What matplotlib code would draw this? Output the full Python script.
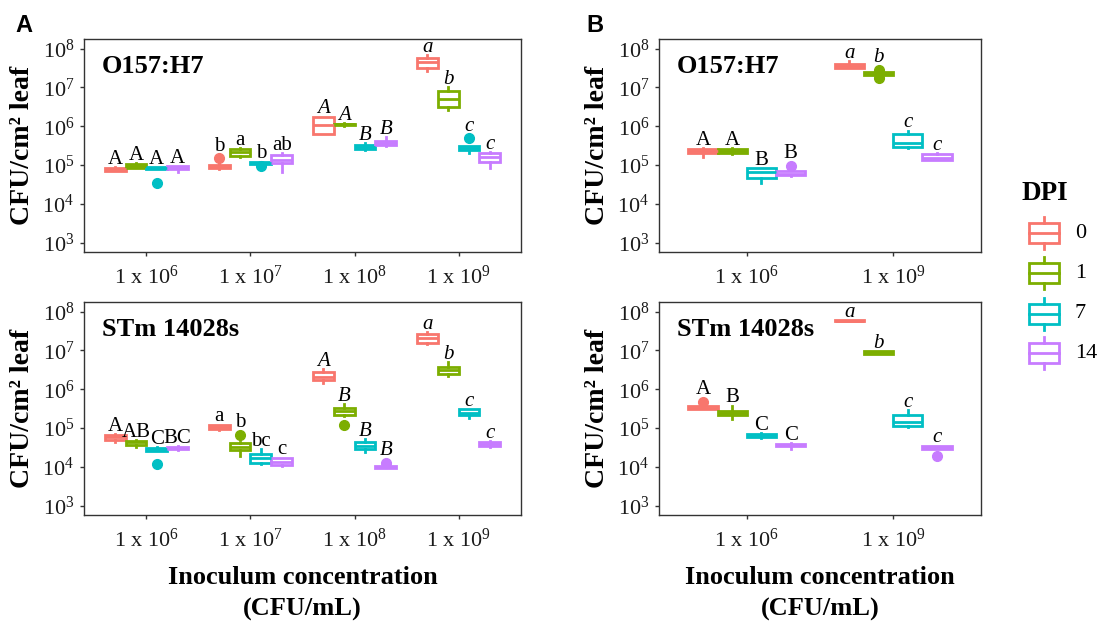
import numpy as np
import matplotlib
matplotlib.use('Agg')
import matplotlib.pyplot as plt
from matplotlib.ticker import FixedLocator, LogFormatterMathtext, NullLocator
from matplotlib.patches import Rectangle

plt.rcParams['font.family'] = 'Liberation Serif'
plt.rcParams['mathtext.fontset'] = 'custom'
plt.rcParams['mathtext.rm'] = 'Liberation Serif'
plt.rcParams['mathtext.it'] = 'Liberation Serif:italic'
plt.rcParams['mathtext.bf'] = 'Liberation Serif:bold'

# DPI groups and ggplot default colours
dpi_levels = ['0', '1', '7', '14']
dpi_colors = ['#F8766D', '#7CAE00', '#00BFC4', '#C77CFF']

# all values are log10 CFU/cm2 leaf, rows = inoculum, columns = DPI 0,1,7,14
# Panel A, O157:H7
a1_conc = [6, 7, 8, 9]
a1_q1 = [[4.86, 4.93, 4.91, 4.89], [4.92, 5.24, 5.04, 5.05], [5.80, 6.03, 5.42, 5.53], [7.50, 6.50, 5.38, 5.09]]
a1_med = [[4.89, 4.98, 4.93, 4.93], [4.96, 5.35, 5.06, 5.13], [6.03, 6.05, 5.47, 5.58], [7.65, 6.70, 5.43, 5.21]]
a1_q3 = [[4.93, 5.04, 4.95, 4.97], [5.00, 5.42, 5.08, 5.25], [6.25, 6.07, 5.51, 5.62], [7.75, 6.92, 5.48, 5.30]]
a1_lo = [[4.84, 4.92, 4.90, 4.81], [4.91, 5.22, 5.03, 4.82], [5.80, 6.02, 5.38, 5.50], [7.42, 6.41, 5.31, 4.92]]
a1_hi = [[4.95, 5.06, 4.96, 4.98], [5.02, 5.44, 5.09, 5.30], [6.25, 6.09, 5.56, 5.72], [7.83, 7.00, 5.50, 5.33]]
a1_out = [[[], [], [4.54], []], [[5.17], [], [4.97], []], [[], [], [], []], [[], [], [5.69], []]]
a1_letters = [['A', 'A', 'A', 'A'], ['b', 'a', 'b', 'ab'], ['A', 'A', 'B', 'B'], ['a', 'b', 'c', 'c']]
a1_italic = [False, False, True, True]

# Panel A, STm 14028s
a2_conc = [6, 7, 8, 9]
a2_q1 = [[4.70, 4.56, 4.42, 4.45], [4.97, 4.44, 4.09, 4.05], [6.23, 5.34, 4.45, 3.97], [7.20, 6.39, 5.34, 4.55]]
a2_med = [[4.77, 4.63, 4.46, 4.48], [5.03, 4.52, 4.24, 4.13], [6.32, 5.45, 4.55, 4.00], [7.32, 6.50, 5.40, 4.60]]
a2_q3 = [[4.82, 4.68, 4.49, 4.52], [5.08, 4.61, 4.33, 4.22], [6.45, 5.53, 4.65, 4.03], [7.42, 6.58, 5.48, 4.65]]
a2_lo = [[4.65, 4.51, 4.40, 4.44], [4.95, 4.27, 4.07, 4.03], [6.16, 5.32, 4.38, 3.96], [7.16, 6.34, 5.27, 4.51]]
a2_hi = [[4.84, 4.70, 4.50, 4.53], [5.09, 4.63, 4.47, 4.24], [6.53, 5.61, 4.72, 4.05], [7.47, 6.70, 5.49, 4.66]]
a2_out = [[[], [], [4.08], []], [[], [4.83], [], []], [[], [5.09], [], [4.10]], [[], [], [], []]]
a2_letters = [['A', 'AB', 'C', 'BC'], ['a', 'b', 'bc', 'c'], ['A', 'B', 'B', 'B'], ['a', 'b', 'c', 'c']]
a2_italic = [False, False, True, True]

# Panel B, O157:H7
b1_conc = [6, 9]
b1_q1 = [[5.32, 5.32, 4.68, 4.74], [7.51, 7.31, 5.46, 5.13]]
b1_med = [[5.37, 5.36, 4.81, 4.78], [7.56, 7.35, 5.57, 5.18]]
b1_q3 = [[5.42, 5.41, 4.92, 4.84], [7.61, 7.39, 5.80, 5.29]]
b1_lo = [[5.22, 5.29, 4.55, 4.73], [7.50, 7.27, 5.44, 5.12]]
b1_hi = [[5.44, 5.45, 4.93, 4.86], [7.68, 7.42, 5.89, 5.31]]
b1_out = [[[], [], [], [4.97]], [[], [7.46, 7.24], [], []]]
b1_letters = [['A', 'A', 'B', 'B'], ['a', 'b', 'c', 'c']]
b1_italic = [False, True]

# Panel B, STm 14028s
b2_conc = [6, 9]
b2_q1 = [[5.50, 5.35, 4.77, 4.53], [7.75, 6.92, 5.05, 4.46]]
b2_med = [[5.53, 5.40, 4.81, 4.56], [7.77, 6.95, 5.15, 4.50]]
b2_q3 = [[5.56, 5.45, 4.85, 4.59], [7.78, 6.98, 5.33, 4.54]]
b2_lo = [[5.48, 5.24, 4.75, 4.46], [7.75, 6.91, 5.03, 4.45]]
b2_hi = [[5.58, 5.58, 4.87, 4.61], [7.78, 6.99, 5.46, 4.55]]
b2_out = [[[5.68], [], [], []], [[], [], [], [4.27]]]
b2_letters = [['A', 'B', 'C', 'C'], ['a', 'b', 'c', 'c']]
b2_italic = [False, True]

W, H = 1101, 621
fig = plt.figure(figsize=(W / 100, H / 100), dpi=100)


def rect(l, t, r, b):
    return [l / W, 1 - b / H, (r - l) / W, (b - t) / H]


def draw_panel(ax, conc, q1, med, q3, lo, hi, out, letters, italic, title):
    n = len(conc)
    centers = np.arange(1, n + 1)
    offsets = [-0.3, -0.1, 0.1, 0.3]
    for j, col in enumerate(dpi_colors):
        stats = []
        for i in range(n):
            stats.append(dict(med=10 ** med[i][j], q1=10 ** q1[i][j], q3=10 ** q3[i][j],
                              whislo=10 ** lo[i][j], whishi=10 ** hi[i][j],
                              fliers=[10 ** v for v in out[i][j]]))
        ax.bxp(stats, positions=centers + offsets[j], widths=0.2, showcaps=False,
               patch_artist=True,
               boxprops=dict(facecolor='white', edgecolor=col, linewidth=2),
               medianprops=dict(color=col, linewidth=2),
               whiskerprops=dict(color=col, linewidth=2),
               flierprops=dict(marker='o', markerfacecolor=col, markeredgecolor=col,
                               markersize=7))
        for i in range(n):
            top = max([hi[i][j]] + [v + 0.12 for v in out[i][j]])
            ax.text(centers[i] + offsets[j], 10 ** (top + 0.08), letters[i][j],
                    ha='center', va='baseline', fontsize=15,
                    style='italic' if italic[i] else 'normal')
    ax.set_yscale('log')
    ax.set_ylim(10 ** 2.76, 10 ** 8.25)
    ax.yaxis.set_major_locator(FixedLocator([1e3, 1e4, 1e5, 1e6, 1e7, 1e8]))
    ax.yaxis.set_major_formatter(LogFormatterMathtext())
    ax.yaxis.set_minor_locator(NullLocator())
    ax.set_xlim(0.4, n + 0.6)
    ax.set_xticks(centers)
    ax.set_xticklabels([r'1 x 10$^{\mathdefault{%d}}$' % c for c in conc])
    ax.tick_params(labelsize=16, length=3, width=1, color='#333333',
                   labelcolor='#1a1a1a', pad=4)
    ax.tick_params(axis='x', pad=7)
    for s in ax.spines.values():
        s.set_color('#333333')
        s.set_linewidth(1.0)
    ax.annotate(title, xy=(0, 1), xycoords='axes fraction', xytext=(18, -27.5),
                textcoords='offset pixels', ha='left', va='center',
                fontsize=19, fontweight='bold')


ax1 = fig.add_axes(rect(84, 39, 521, 252))
draw_panel(ax1, a1_conc, a1_q1, a1_med, a1_q3, a1_lo, a1_hi, a1_out, a1_letters, a1_italic, 'O157:H7')
ax2 = fig.add_axes(rect(84, 302, 521, 515))
draw_panel(ax2, a2_conc, a2_q1, a2_med, a2_q3, a2_lo, a2_hi, a2_out, a2_letters, a2_italic, 'STm 14028s')
ax3 = fig.add_axes(rect(659, 39, 981, 252))
draw_panel(ax3, b1_conc, b1_q1, b1_med, b1_q3, b1_lo, b1_hi, b1_out, b1_letters, b1_italic, 'O157:H7')
ax4 = fig.add_axes(rect(659, 302, 981, 515))
draw_panel(ax4, b2_conc, b2_q1, b2_med, b2_q3, b2_lo, b2_hi, b2_out, b2_letters, b2_italic, 'STm 14028s')

# overlay in pixel coordinates for labels and legend
lax = fig.add_axes([0, 0, 1, 1])
lax.set_xlim(0, W)
lax.set_ylim(H, 0)
lax.axis('off')

lax.text(23.5, 25.5, 'A', ha='center', va='center', fontsize=17, fontweight='bold',
         family='Liberation Sans')
lax.text(595, 25.5, 'B', ha='center', va='center', fontsize=17, fontweight='bold',
         family='Liberation Sans')

for x in [23, 597]:
    for yc in [145.5, 408.5]:
        lax.text(x, yc, 'CFU/cm² leaf', rotation=90, ha='center', va='center',
                 fontsize=20, fontweight='bold')

for xc in [302.5, 820]:
    lax.text(xc, 577, 'Inoculum concentration', ha='center', va='center',
             fontsize=19, fontweight='bold')
    lax.text(xc, 609, '(CFU/mL)', ha='center', va='center', fontsize=19,
             fontweight='bold')

# legend
lax.text(1045, 194, 'DPI', ha='center', va='center', fontsize=19.5, fontweight='bold')
key_y = [233, 273, 314, 353]
for lab, col, yc in zip(dpi_levels, dpi_colors, key_y):
    lax.add_patch(Rectangle((1029, yc - 10), 30, 20, facecolor='white', edgecolor=col,
                            linewidth=2))
    lax.plot([1029, 1059], [yc, yc], color=col, linewidth=2)
    lax.plot([1044, 1044], [yc - 16, yc - 10], color=col, linewidth=2)
    lax.plot([1044, 1044], [yc + 10, yc + 16], color=col, linewidth=2)
    lax.text(1075, yc, lab, ha='left', va='center', fontsize=16)

fig.savefig('out.png', dpi=100)
